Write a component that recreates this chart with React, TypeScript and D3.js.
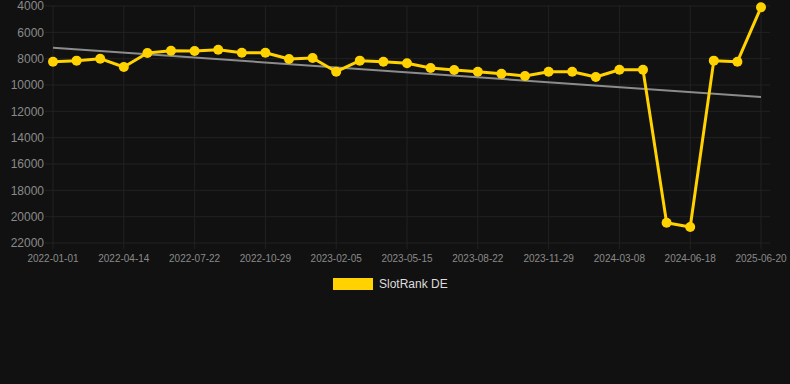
import { useEffect, useRef } from 'react'
import * as d3 from 'd3'

// category dates, one per point (labels shown on every 3rd)
const dates = [
  '2022-01-01', '2022-02-04', '2022-03-10', '2022-04-14', '2022-05-18', '2022-06-18',
  '2022-07-22', '2022-08-25', '2022-09-26', '2022-10-29', '2022-12-01', '2023-01-03',
  '2023-02-05', '2023-03-09', '2023-04-11', '2023-05-15', '2023-06-17', '2023-07-20',
  '2023-08-22', '2023-09-24', '2023-10-27', '2023-11-29', '2024-01-01', '2024-02-04',
  '2024-03-08', '2024-04-10', '2024-05-14', '2024-06-18', '2024-10-20', '2025-02-18',
  '2025-06-20',
]

const slotRankDE = [
  8230, 8150, 8000, 8630, 7570, 7400, 7420, 7320, 7550, 7550, 8030, 7950,
  8990, 8150, 8230, 8350, 8710, 8860, 8990, 9140, 9320, 8990, 8990, 9390,
  8840, 8840, 20460, 20790, 8150, 8230, 4100,
]

// trend line values at first and last category
const trendValues = [7170, 10910]

const yTicks = [4000, 6000, 8000, 10000, 12000, 14000, 16000, 18000, 20000, 22000]

const W = 790
const H = 384

const App = () => {
  const ref = useRef<SVGSVGElement>(null)

  useEffect(() => {
    const svg = d3.select(ref.current)
    svg.selectAll('*').remove()

    const left = 45
    const right = 770
    const top = 6
    const bottom = 243

    const x = d3.scalePoint<string>().domain(dates).range([53, 761])
    const y = d3.scaleLinear().domain([4000, 22000]).range([top, bottom])

    svg.append('rect').attr('width', W).attr('height', H).attr('fill', '#111111')

    // horizontal grid
    svg
      .append('g')
      .selectAll('line')
      .data(yTicks)
      .enter()
      .append('line')
      .attr('x1', left)
      .attr('x2', right)
      .attr('y1', (d) => y(d))
      .attr('y2', (d) => y(d))
      .attr('stroke', '#222222')
      .attr('stroke-width', 1)

    const labelled = dates.filter((_, i) => i % 3 === 0)

    // vertical grid
    svg
      .append('g')
      .selectAll('line')
      .data(labelled)
      .enter()
      .append('line')
      .attr('x1', (d) => x(d)!)
      .attr('x2', (d) => x(d)!)
      .attr('y1', top)
      .attr('y2', bottom + 6)
      .attr('stroke', '#222222')
      .attr('stroke-width', 1)

    // y labels
    svg
      .append('g')
      .selectAll('text')
      .data(yTicks)
      .enter()
      .append('text')
      .attr('x', 44)
      .attr('y', (d) => y(d))
      .attr('dy', '0.35em')
      .attr('text-anchor', 'end')
      .attr('fill', '#8a8a8a')
      .attr('font-size', 12)
      .attr('font-family', 'Liberation Sans, Arial, sans-serif')
      .text((d) => d)

    // x labels
    svg
      .append('g')
      .selectAll('text')
      .data(labelled)
      .enter()
      .append('text')
      .attr('x', (d) => x(d)!)
      .attr('y', 262)
      .attr('text-anchor', 'middle')
      .attr('fill', '#8a8a8a')
      .attr('font-size', 10)
      .attr('font-family', 'Liberation Sans, Arial, sans-serif')
      .text((d) => d)

    // trend line
    svg
      .append('line')
      .attr('x1', x(dates[0])!)
      .attr('x2', x(dates[dates.length - 1])!)
      .attr('y1', y(trendValues[0]))
      .attr('y2', y(trendValues[1]))
      .attr('stroke', '#8c8c8c')
      .attr('stroke-width', 2)

    const line = d3
      .line<number>()
      .x((_, i) => x(dates[i])!)
      .y((d) => y(d))

    svg
      .append('path')
      .datum(slotRankDE)
      .attr('fill', 'none')
      .attr('stroke', '#ffd200')
      .attr('stroke-width', 3)
      .attr('stroke-linejoin', 'round')
      .attr('d', line)

    svg
      .append('g')
      .selectAll('circle')
      .data(slotRankDE)
      .enter()
      .append('circle')
      .attr('cx', (_, i) => x(dates[i])!)
      .attr('cy', (d) => y(d))
      .attr('r', 5)
      .attr('fill', '#ffd200')

    // legend
    const lg = svg.append('g')
    lg.append('rect')
      .attr('x', 333)
      .attr('y', 278)
      .attr('width', 40)
      .attr('height', 12)
      .attr('fill', '#ffd200')
    lg.append('text')
      .attr('x', 379)
      .attr('y', 284)
      .attr('dy', '0.35em')
      .attr('fill', '#dddddd')
      .attr('font-size', 12)
      .attr('font-family', 'Liberation Sans, Arial, sans-serif')
      .text('SlotRank DE')
  }, [])

  return (
    <svg
      ref={ref}
      width={W}
      height={H}
      style={{ position: 'absolute', left: 0, top: 0, display: 'block' }}
    />
  )
}

export default App
